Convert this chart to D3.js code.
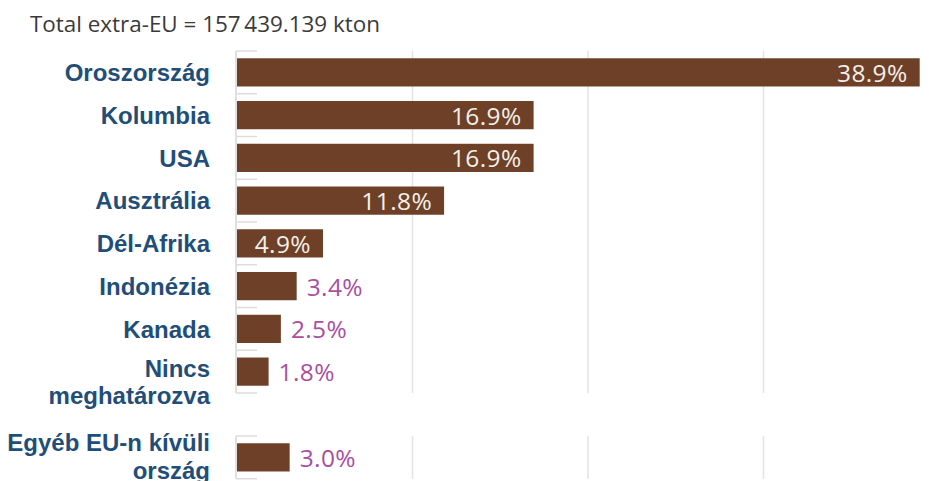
<!DOCTYPE html>
<html>
<head>
<meta charset="utf-8">
<script src="https://cdn.jsdelivr.net/npm/d3@7"></script>
<style>
  html, body { margin: 0; padding: 0; background: #fff; }
  svg { display: block; }
</style>
</head>
<body>
<svg id="chart" width="930" height="481"></svg>
<script>
// ---- data ----
const titleText = "Total extra-EU = 157\u2009439.139 kton";
const categories = ["Oroszország", "Kolumbia", "USA", "Ausztrália", "Dél-Afrika", "Indonézia", "Kanada", "Nincs\nmeghatározva"];
const values = [38.9, 16.9, 16.9, 11.8, 4.9, 3.4, 2.5, 1.8];
const otherCategories = ["Egyéb EU-n kívüli\nország"];
const otherValues = [3.0];
const gridTicks = [0, 10, 20, 30];

// ---- layout ----
const svg = d3.select("#chart");
const x = d3.scaleLinear().domain([0, 40]).range([237, 939]);
const barColor = "#6d4027";
const labelColor = "#1f4e79";
const outColor = "#a94ea3";
const gridColor = "#e3e3e3";
const valueFont = "'Open Sans', sans-serif";

svg.append("text")
  .attr("x", 30).attr("y", 32)
  .attr("font-family", valueFont)
  .attr("font-size", 22)
  .attr("fill", "#3a3a3a")
  .attr("textLength", 350)
  .attr("lengthAdjust", "spacingAndGlyphs")
  .text(titleText);

const groups = [
  { cats: categories, vals: values, range: [51, 393], firstLineOffset: 5 },
  { cats: otherCategories, vals: otherValues, range: [436, 478.75], firstLineOffset: -6 }
];

groups.forEach(grp => {
  const y = d3.scaleBand().domain(grp.cats).range(grp.range).paddingInner(0).paddingOuter(0);
  const g = svg.append("g");
  const [y0, y1] = grp.range;

  // grid lines
  g.selectAll("line.grid").data(gridTicks.filter(t => t > 0)).join("line")
    .attr("x1", d => x(d)).attr("x2", d => x(d))
    .attr("y1", y0).attr("y2", y1)
    .attr("stroke", gridColor).attr("stroke-width", 1.5);

  // axis vertical line
  g.append("line")
    .attr("x1", x(0) - 1).attr("x2", x(0) - 1)
    .attr("y1", y0).attr("y2", y1)
    .attr("stroke", "#d6d6d6").attr("stroke-width", 1.5);

  // band boundary ticks
  const bounds = grp.cats.map(c => y(c)).concat([y1]);
  g.selectAll("line.tick").data(bounds).join("line")
    .attr("x1", x(0) - 1).attr("x2", x(0) + 20)
    .attr("y1", d => d).attr("y2", d => d)
    .attr("stroke", "#dcdcdc").attr("stroke-width", 1.5);

  const bh = y.bandwidth() * 0.66;
  // bars
  g.selectAll("rect.bar").data(grp.cats).join("rect")
    .attr("x", x(0))
    .attr("y", (c) => y(c) + (y.bandwidth() - bh) / 2)
    .attr("width", (c, i) => x(grp.vals[i]) - x(0))
    .attr("height", bh)
    .attr("fill", barColor);

  // category labels
  grp.cats.forEach((c, i) => {
    const cy = y(c) + y.bandwidth() / 2;
    const lines = c.split("\n");
    const t = g.append("text")
      .attr("text-anchor", "end")
      .attr("font-family", "'Liberation Sans', Arial, sans-serif")
      .attr("font-weight", "bold")
      .attr("font-size", 24)
      .attr("fill", labelColor);
    const first = lines.length > 1 ? cy + grp.firstLineOffset : cy + 8.7;
    lines.forEach((ln, k) => {
      t.append("tspan").attr("x", 210).attr("y", first + k * 27.5).text(ln);
    });
  });

  // value labels
  grp.cats.forEach((c, i) => {
    const v = grp.vals[i];
    const cy = y(c) + y.bandwidth() / 2;
    const inside = v > 4;
    g.append("text")
      .attr("x", inside ? x(v) - 12 : x(v) + 10)
      .attr("y", cy + 9.5)
      .attr("text-anchor", inside ? "end" : "start")
      .attr("font-family", valueFont)
      .attr("font-size", 24.5)
      .attr("letter-spacing", 0.4)
      .attr("fill", inside ? "#f4efe9" : outColor)
      .text(v.toFixed(1) + "%");
  });
});
</script>
</body>
</html>
